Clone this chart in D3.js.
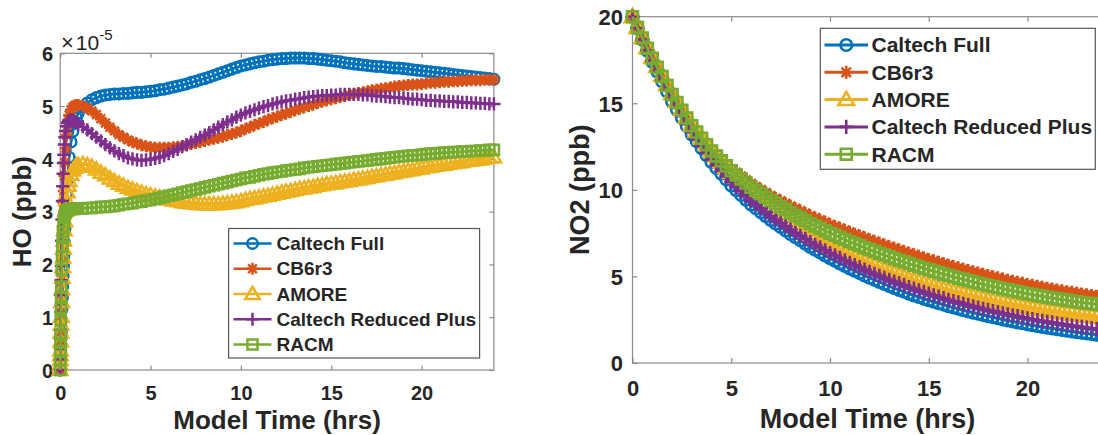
<!DOCTYPE html>
<html>
<head>
<meta charset="utf-8">
<script src="https://cdn.jsdelivr.net/npm/d3@7"></script>
<style>
  html, body { margin: 0; padding: 0; background: #fff; }
  svg { display: block; }
</style>
</head>
<body>
<svg id="fig" width="1098" height="435"></svg>
<script>
// ---------------- data ----------------
const mechanisms = ["Caltech Full", "CB6r3", "AMORE", "Caltech Reduced Plus", "RACM"];

// HO output times (hrs): finer steps during the initial spin-up
const hoTime = [0, 0.005, 0.01, 0.015, 0.02, 0.03, 0.04, 0.05, 0.06, 0.08, 0.1, 0.12, 0.14, 0.16, 0.18, 0.2, 0.23, 0.26, 0.3, 0.35, 0.4, 0.45, 0.5, 0.6, 0.7, 0.8, 0.9,
  1, 1.25, 1.5, 1.75, 2, 2.25, 2.5, 2.75, 3, 3.25, 3.5, 3.75, 4, 4.25, 4.5, 4.75, 5, 5.25, 5.5, 5.75,
  6, 6.25, 6.5, 6.75, 7, 7.25, 7.5, 7.75, 8, 8.25, 8.5, 8.75, 9, 9.25, 9.5, 9.75, 10, 10.25, 10.5, 10.75,
  11, 11.25, 11.5, 11.75, 12, 12.25, 12.5, 12.75, 13, 13.25, 13.5, 13.75, 14, 14.25, 14.5, 14.75,
  15, 15.25, 15.5, 15.75, 16, 16.25, 16.5, 16.75, 17, 17.25, 17.5, 17.75, 18, 18.25, 18.5, 18.75,
  19, 19.25, 19.5, 19.75, 20, 20.25, 20.5, 20.75, 21, 21.25, 21.5, 21.75, 22, 22.25, 22.5, 22.75,
  23, 23.25, 23.5, 23.75, 24];

// HO mixing ratio, in units of 1e-5 ppb
const hoCaltechFull = [0, 0.06, 0.12, 0.18, 0.24, 0.36, 0.48, 0.6, 0.71, 0.94, 1.16, 1.37, 1.58, 1.78, 1.97, 2.16, 2.42, 2.67, 2.98, 3.32, 3.6, 3.84, 4.03, 4.32, 4.52, 4.67, 4.78,
  4.87, 4.98, 5.06, 5.12, 5.16, 5.19, 5.21, 5.22, 5.23, 5.23, 5.24, 5.24, 5.25, 5.26, 5.26, 5.27,
  5.28, 5.29, 5.31, 5.32, 5.34, 5.36, 5.38, 5.4, 5.42, 5.45, 5.47, 5.5, 5.52, 5.55, 5.58, 5.61,
  5.64, 5.67, 5.7, 5.73, 5.76, 5.78, 5.8, 5.82, 5.84, 5.85, 5.87, 5.88, 5.89, 5.9, 5.9, 5.91,
  5.91, 5.91, 5.91, 5.9, 5.9, 5.89, 5.88, 5.87, 5.86, 5.85, 5.84, 5.82, 5.81, 5.8, 5.79, 5.78,
  5.77, 5.76, 5.75, 5.75, 5.74, 5.73, 5.72, 5.72, 5.71, 5.7, 5.69, 5.68, 5.67, 5.66, 5.65, 5.64,
  5.63, 5.62, 5.61, 5.6, 5.59, 5.58, 5.57, 5.56, 5.55, 5.54, 5.53, 5.52, 5.51];
const hoCB6r3 = [0, 0.12, 0.24, 0.36, 0.48, 0.7, 0.92, 1.12, 1.32, 1.7, 2.05, 2.37, 2.66, 2.93, 3.17, 3.39, 3.68, 3.93, 4.2, 4.45, 4.62, 4.74, 4.83, 4.93, 4.98, 5.01, 5.02,
  5.02, 5.0, 4.96, 4.91, 4.84, 4.76, 4.68, 4.6, 4.53, 4.46, 4.41, 4.36, 4.32, 4.29, 4.26, 4.24,
  4.22, 4.21, 4.21, 4.21, 4.21, 4.22, 4.23, 4.24, 4.26, 4.28, 4.3, 4.32, 4.34, 4.36, 4.38, 4.4,
  4.42, 4.45, 4.47, 4.5, 4.53, 4.57, 4.6, 4.64, 4.67, 4.7, 4.74, 4.77, 4.8, 4.83, 4.86, 4.89,
  4.92, 4.95, 4.98, 5.0, 5.03, 5.06, 5.08, 5.11, 5.13, 5.15, 5.17, 5.19, 5.21, 5.23, 5.25, 5.26,
  5.28, 5.3, 5.31, 5.33, 5.34, 5.35, 5.37, 5.38, 5.39, 5.4, 5.41, 5.41, 5.42, 5.43, 5.44, 5.44,
  5.45, 5.46, 5.46, 5.47, 5.47, 5.48, 5.48, 5.49, 5.49, 5.49, 5.5, 5.5, 5.5];
const hoAMORE = [0, 0.1, 0.19, 0.28, 0.37, 0.54, 0.71, 0.86, 1.01, 1.29, 1.53, 1.75, 1.95, 2.13, 2.3, 2.45, 2.65, 2.82, 3.02, 3.22, 3.37, 3.49, 3.58, 3.7, 3.78, 3.83, 3.86,
  3.88, 3.9, 3.88, 3.85, 3.8, 3.74, 3.69, 3.63, 3.58, 3.53, 3.49, 3.45, 3.42, 3.39, 3.36, 3.33,
  3.31, 3.29, 3.27, 3.25, 3.23, 3.21, 3.2, 3.18, 3.17, 3.16, 3.15, 3.14, 3.14, 3.14, 3.14, 3.14,
  3.15, 3.16, 3.17, 3.18, 3.2, 3.22, 3.24, 3.25, 3.27, 3.29, 3.3, 3.32, 3.34, 3.36, 3.38, 3.39,
  3.41, 3.43, 3.44, 3.46, 3.47, 3.49, 3.5, 3.52, 3.53, 3.54, 3.56, 3.57, 3.58, 3.6, 3.61, 3.63,
  3.64, 3.66, 3.67, 3.69, 3.7, 3.72, 3.73, 3.75, 3.76, 3.78, 3.79, 3.81, 3.82, 3.84, 3.85, 3.87,
  3.88, 3.89, 3.91, 3.92, 3.93, 3.94, 3.96, 3.97, 3.98, 3.99, 4.01, 4.02, 4.03];
const hoCaltechReducedPlus = [0, 0.2, 0.4, 0.58, 0.76, 1.1, 1.42, 1.7, 1.97, 2.45, 2.85, 3.2, 3.48, 3.72, 3.92, 4.08, 4.27, 4.41, 4.53, 4.62, 4.68, 4.71, 4.73, 4.74, 4.73, 4.71, 4.69,
  4.66, 4.61, 4.55, 4.48, 4.41, 4.34, 4.27, 4.21, 4.15, 4.1, 4.06, 4.02, 4.0, 3.98, 3.97, 3.98,
  3.99, 4.01, 4.03, 4.06, 4.1, 4.14, 4.18, 4.23, 4.27, 4.32, 4.36, 4.41, 4.45, 4.5, 4.55, 4.6,
  4.65, 4.7, 4.74, 4.79, 4.83, 4.87, 4.9, 4.93, 4.96, 4.99, 5.01, 5.04, 5.06, 5.08, 5.1, 5.11,
  5.13, 5.14, 5.16, 5.17, 5.18, 5.19, 5.2, 5.2, 5.21, 5.21, 5.22, 5.22, 5.22, 5.22, 5.22, 5.21,
  5.21, 5.2, 5.19, 5.19, 5.18, 5.17, 5.16, 5.16, 5.15, 5.14, 5.13, 5.13, 5.12, 5.11, 5.11, 5.1,
  5.1, 5.09, 5.09, 5.08, 5.08, 5.07, 5.07, 5.06, 5.06, 5.05, 5.05, 5.04, 5.04];
const hoRACM = [0, 0.18, 0.35, 0.51, 0.66, 0.94, 1.18, 1.39, 1.58, 1.9, 2.15, 2.35, 2.5, 2.62, 2.72, 2.8, 2.88, 2.94, 2.98, 3.01, 3.03, 3.04, 3.05, 3.05, 3.05, 3.05, 3.06,
  3.06, 3.06, 3.07, 3.07, 3.08, 3.09, 3.09, 3.1, 3.11, 3.12, 3.14, 3.15, 3.16, 3.18, 3.19, 3.21,
  3.22, 3.24, 3.26, 3.28, 3.3, 3.32, 3.34, 3.36, 3.38, 3.4, 3.42, 3.44, 3.46, 3.48, 3.5, 3.52,
  3.54, 3.56, 3.58, 3.6, 3.62, 3.64, 3.65, 3.67, 3.69, 3.71, 3.72, 3.74, 3.75, 3.76, 3.78, 3.79,
  3.8, 3.81, 3.83, 3.84, 3.85, 3.86, 3.87, 3.88, 3.89, 3.9, 3.91, 3.92, 3.93, 3.94, 3.95, 3.96,
  3.97, 3.98, 3.99, 4.0, 4.01, 4.02, 4.03, 4.04, 4.05, 4.06, 4.07, 4.07, 4.08, 4.09, 4.1, 4.1,
  4.11, 4.12, 4.12, 4.13, 4.13, 4.14, 4.14, 4.15, 4.15, 4.16, 4.16, 4.17, 4.17];

// NO2 output times (hrs)
const no2Time = [0, 0.25, 0.5, 0.75,
  1, 1.25, 1.5, 1.75, 2, 2.25, 2.5, 2.75, 3, 3.25, 3.5, 3.75, 4, 4.25, 4.5, 4.75, 5, 5.25, 5.5, 5.75,
  6, 6.25, 6.5, 6.75, 7, 7.25, 7.5, 7.75, 8, 8.25, 8.5, 8.75, 9, 9.25, 9.5, 9.75, 10, 10.25, 10.5, 10.75,
  11, 11.25, 11.5, 11.75, 12, 12.25, 12.5, 12.75, 13, 13.25, 13.5, 13.75, 14, 14.25, 14.5, 14.75,
  15, 15.25, 15.5, 15.75, 16, 16.25, 16.5, 16.75, 17, 17.25, 17.5, 17.75, 18, 18.25, 18.5, 18.75,
  19, 19.25, 19.5, 19.75, 20, 20.25, 20.5, 20.75, 21, 21.25, 21.5, 21.75, 22, 22.25, 22.5, 22.75,
  23, 23.25, 23.5, 23.75, 24];

// NO2 mixing ratio (ppb)
const no2CaltechFull = [20, 19.32, 18.67, 18.03, 17.4, 16.83, 16.25, 15.68, 15.1, 14.63, 14.15, 13.68,
  13.2, 12.8, 12.4, 12.0, 11.6, 11.26, 10.93, 10.59, 10.25, 9.98, 9.7, 9.43, 9.15, 8.93, 8.7, 8.48,
  8.25, 8.05, 7.85, 7.65, 7.45, 7.26, 7.08, 6.89, 6.7, 6.54, 6.38, 6.21, 6.05, 5.9, 5.75, 5.6,
  5.45, 5.32, 5.19, 5.05, 4.92, 4.8, 4.68, 4.56, 4.44, 4.33, 4.22, 4.11, 4.0, 3.9, 3.81, 3.71,
  3.62, 3.54, 3.45, 3.37, 3.28, 3.2, 3.13, 3.05, 2.97, 2.9, 2.84, 2.77, 2.7, 2.64, 2.58, 2.51,
  2.45, 2.4, 2.34, 2.29, 2.23, 2.18, 2.13, 2.08, 2.03, 1.99, 1.95, 1.9, 1.86, 1.82, 1.78, 1.74,
  1.7, 1.67, 1.63, 1.6, 1.56];
const no2CB6r3 = [20, 19.36, 18.74, 18.14, 17.55, 17.03, 16.5, 15.98, 15.45, 15.01, 14.58, 14.14,
  13.7, 13.35, 13.0, 12.65, 12.3, 12.03, 11.75, 11.48, 11.2, 10.99, 10.78, 10.56, 10.35, 10.18, 10.0, 9.83,
  9.65, 9.5, 9.35, 9.2, 9.05, 8.91, 8.78, 8.64, 8.5, 8.38, 8.25, 8.13, 8.0, 7.89, 7.78, 7.66,
  7.55, 7.44, 7.34, 7.23, 7.12, 7.02, 6.92, 6.82, 6.72, 6.63, 6.53, 6.44, 6.34, 6.25, 6.16, 6.07,
  5.98, 5.9, 5.82, 5.73, 5.65, 5.57, 5.5, 5.42, 5.34, 5.27, 5.2, 5.12, 5.05, 4.98, 4.92, 4.85,
  4.78, 4.72, 4.66, 4.6, 4.54, 4.49, 4.43, 4.38, 4.32, 4.27, 4.22, 4.17, 4.12, 4.08, 4.03, 3.99,
  3.94, 3.9, 3.86, 3.82, 3.78];
const no2AMORE = [20, 19.38, 18.79, 18.21, 17.65, 17.13, 16.6, 16.08, 15.55, 15.1, 14.65, 14.2,
  13.75, 13.38, 13.0, 12.63, 12.25, 11.94, 11.63, 11.31, 11.0, 10.74, 10.48, 10.21, 9.95, 9.73, 9.5, 9.28,
  9.05, 8.85, 8.65, 8.45, 8.25, 8.05, 7.85, 7.65, 7.45, 7.29, 7.13, 6.96, 6.8, 6.66, 6.52, 6.38,
  6.24, 6.11, 5.98, 5.85, 5.72, 5.61, 5.49, 5.38, 5.26, 5.16, 5.06, 4.95, 4.85, 4.76, 4.68, 4.59,
  4.5, 4.42, 4.34, 4.26, 4.18, 4.11, 4.04, 3.97, 3.9, 3.84, 3.77, 3.71, 3.64, 3.58, 3.53, 3.47,
  3.41, 3.36, 3.31, 3.25, 3.2, 3.16, 3.11, 3.07, 3.02, 2.98, 2.94, 2.9, 2.86, 2.83, 2.79, 2.76,
  2.72, 2.69, 2.66, 2.63, 2.6];
const no2CaltechReducedPlus = [20, 19.34, 18.69, 18.06, 17.45, 16.89, 16.33, 15.76, 15.2, 14.73, 14.26, 13.79,
  13.32, 12.93, 12.54, 12.14, 11.75, 11.43, 11.1, 10.78, 10.45, 10.18, 9.92, 9.65, 9.38, 9.16, 8.93, 8.71,
  8.48, 8.29, 8.09, 7.9, 7.7, 7.52, 7.34, 7.16, 6.98, 6.82, 6.67, 6.51, 6.35, 6.21, 6.07, 5.92,
  5.78, 5.65, 5.52, 5.39, 5.26, 5.15, 5.03, 4.92, 4.8, 4.7, 4.59, 4.49, 4.38, 4.29, 4.19, 4.1,
  4.0, 3.91, 3.83, 3.74, 3.65, 3.57, 3.5, 3.42, 3.34, 3.27, 3.2, 3.13, 3.06, 3.0, 2.94, 2.87,
  2.81, 2.75, 2.7, 2.64, 2.58, 2.53, 2.48, 2.43, 2.38, 2.34, 2.29, 2.25, 2.2, 2.16, 2.12, 2.08,
  2.04, 2.01, 1.97, 1.94, 1.9];
const no2RACM = [20, 19.37, 18.77, 18.18, 17.6, 17.08, 16.55, 16.03, 15.5, 15.05, 14.6, 14.15,
  13.7, 13.34, 12.98, 12.61, 12.25, 11.96, 11.68, 11.39, 11.1, 10.86, 10.63, 10.39, 10.15, 9.96, 9.77, 9.57,
  9.38, 9.21, 9.03, 8.86, 8.68, 8.52, 8.37, 8.21, 8.05, 7.91, 7.78, 7.64, 7.5, 7.38, 7.25, 7.13,
  7.0, 6.89, 6.78, 6.66, 6.55, 6.45, 6.34, 6.24, 6.13, 6.03, 5.94, 5.84, 5.74, 5.65, 5.56, 5.47,
  5.38, 5.3, 5.22, 5.13, 5.05, 4.98, 4.9, 4.83, 4.75, 4.68, 4.62, 4.55, 4.48, 4.42, 4.36, 4.29,
  4.23, 4.17, 4.12, 4.06, 4.0, 3.95, 3.9, 3.85, 3.8, 3.76, 3.71, 3.67, 3.62, 3.58, 3.54, 3.5,
  3.46, 3.43, 3.39, 3.36, 3.32];

// axis ticks
const timeTicks = [0, 5, 10, 15, 20];
const hoTicks = [0, 1, 2, 3, 4, 5, 6];
const no2Ticks = [0, 5, 10, 15, 20];

// ---------------- styling ----------------
const FONT = '"Liberation Sans", Arial, Helvetica, sans-serif';
const colors = ["#0072BD", "#D95319", "#EDB120", "#7E2F8E", "#77AC30"];
const markerTypes = ["circle", "asterisk", "triangle", "plus", "square"];
const axisColor = "#8a8a8a";
const textColor = "#262626";

// marker outline centred at the origin, s = nominal marker size in px
function markerPath(type, s) {
  const h = s / 2;
  switch (type) {
    case "circle": {
      const r = s * 0.44;
      return `M${r},0A${r},${r} 0 1,1 ${-r},0A${r},${r} 0 1,1 ${r},0Z`;
    }
    case "asterisk": {
      const d = h * 0.72;
      return `M${-h},0H${h}M0,${-h}V${h}M${-d},${-d}L${d},${d}M${-d},${d}L${d},${-d}`;
    }
    case "triangle": {
      const w = s * 0.6;
      return `M0,${-s * 0.6}L${w},${s * 0.42}L${-w},${s * 0.42}Z`;
    }
    case "plus":
      return `M${-s * 0.55},0H${s * 0.55}M0,${-s * 0.55}V${s * 0.55}`;
    case "square": {
      const a = s * 0.42;
      return `M${-a},${-a}H${a}V${a}H${-a}Z`;
    }
  }
}

const svg = d3.select("#fig");
svg.append("rect").attr("width", 1098).attr("height", 435).attr("fill", "#fff");

function drawPanel(cfg) {
  const g = svg.append("g");
  const x = d3.scaleLinear().domain([0, 24]).range([cfg.left, cfg.right]);
  const y = d3.scaleLinear().domain(cfg.yDomain).range([cfg.bottom, cfg.top]);
  const fmt = d3.format("d");

  // axes box
  g.append("rect")
    .attr("x", cfg.left).attr("y", cfg.top)
    .attr("width", cfg.right - cfg.left).attr("height", cfg.bottom - cfg.top)
    .attr("fill", "none").attr("stroke", axisColor).attr("stroke-width", 1.2);

  const tk = cfg.tickLen;
  const styleAxis = (sel) => {
    sel.select(".domain").remove();
    sel.selectAll(".tick line").attr("stroke", axisColor).attr("stroke-width", 1.2);
    sel.attr("font-family", FONT).attr("font-size", cfg.tickFont).attr("font-weight", "bold");
    sel.selectAll(".tick text").attr("fill", textColor);
  };

  // bottom axis with labels, ticks pointing inward
  g.append("g").attr("transform", `translate(0,${cfg.bottom})`)
    .call(d3.axisBottom(x).tickValues(timeTicks).tickFormat(fmt).tickSize(-tk).tickSizeOuter(0))
    .call(styleAxis)
    .call(s => s.selectAll(".tick text").attr("y", cfg.xLabelBase).attr("dy", null));
  // top axis (ticks only)
  g.append("g").attr("transform", `translate(0,${cfg.top})`)
    .call(d3.axisTop(x).tickValues(timeTicks).tickSize(-tk).tickSizeOuter(0).tickFormat(""))
    .call(styleAxis);
  // left axis with labels
  g.append("g").attr("transform", `translate(${cfg.left},0)`)
    .call(d3.axisLeft(y).tickValues(cfg.yTicks).tickFormat(fmt).tickSize(-tk).tickSizeOuter(0))
    .call(styleAxis)
    .call(s => s.selectAll(".tick text").attr("x", -cfg.yLabelPad).attr("dy", "0.36em"));
  // right axis (ticks only)
  g.append("g").attr("transform", `translate(${cfg.right},0)`)
    .call(d3.axisRight(y).tickValues(cfg.yTicks).tickSize(-tk).tickSizeOuter(0).tickFormat(""))
    .call(styleAxis);

  // series: line plus a marker on every output time
  const line = d3.line().x(d => x(d[0])).y(d => y(d[1]));
  cfg.series.forEach((vals, i) => {
    const n = Math.min(vals.length, cfg.time.length);
    if (vals.length !== cfg.time.length) console.warn("length mismatch", mechanisms[i], vals.length, cfg.time.length);
    const pts = d3.range(n).map(k => [cfg.time[k], vals[k]]);
    g.append("path").attr("d", line(pts))
      .attr("fill", "none").attr("stroke", colors[i])
      .attr("stroke-width", cfg.lineW).attr("stroke-linejoin", "round");
    g.append("g").selectAll("path").data(pts).join("path")
      .attr("d", markerPath(markerTypes[i], cfg.mk))
      .attr("transform", d => `translate(${x(d[0])},${y(d[1])})`)
      .attr("fill", "none").attr("stroke", colors[i]).attr("stroke-width", cfg.mkW);
  });

  // axis titles
  g.append("text")
    .attr("x", (cfg.left + cfg.right) / 2 + (cfg.xTitleShift || 0)).attr("y", cfg.xTitleY)
    .attr("text-anchor", "middle").attr("font-family", FONT)
    .attr("font-size", cfg.titleFont).attr("font-weight", "bold").attr("fill", textColor)
    .text("Model Time (hrs)");
  g.append("text")
    .attr("transform", `translate(${cfg.yTitleX},${(cfg.top + cfg.bottom) / 2}) rotate(-90)`)
    .attr("text-anchor", "middle").attr("font-family", FONT)
    .attr("font-size", cfg.titleFont).attr("font-weight", "bold").attr("fill", textColor)
    .text(cfg.yTitle);

  // legend
  const L = cfg.legend;
  const lg = g.append("g");
  lg.append("rect").attr("x", L.x).attr("y", L.y).attr("width", L.w).attr("height", L.h)
    .attr("fill", "#fff").attr("stroke", "#555").attr("stroke-width", 1.2);
  mechanisms.forEach((name, i) => {
    const cy = L.firstY + i * L.step;
    lg.append("line").attr("x1", L.lineX0).attr("x2", L.lineX1).attr("y1", cy).attr("y2", cy)
      .attr("stroke", colors[i]).attr("stroke-width", cfg.lineW);
    lg.append("path").attr("d", markerPath(markerTypes[i], cfg.mk))
      .attr("transform", `translate(${(L.lineX0 + L.lineX1) / 2},${cy})`)
      .attr("fill", "none").attr("stroke", colors[i]).attr("stroke-width", cfg.mkW);
    lg.append("text").attr("x", L.textX).attr("y", cy).attr("dy", "0.35em")
      .attr("font-family", FONT).attr("font-size", L.font).attr("font-weight", "bold")
      .attr("fill", textColor).text(name);
  });
  return { g, x, y };
}

// ---------------- HO panel ----------------
const ho = drawPanel({
  left: 60.2, right: 493.9, top: 53.3, bottom: 370,
  yDomain: [0, 6], yTicks: hoTicks, time: hoTime,
  series: [hoCaltechFull, hoCB6r3, hoAMORE, hoCaltechReducedPlus, hoRACM],
  tickLen: 4.5, tickFont: 20, xLabelBase: 30, yLabelPad: 7,
  lineW: 2.7, mk: 12, mkW: 2.5,
  titleFont: 26, xTitleY: 429, yTitleX: 31, yTitle: "HO (ppb)",
  legend: { x: 228.6, y: 228.5, w: 251, h: 129.5, firstY: 243.5, step: 25.25,
            lineX0: 233.5, lineX1: 271.5, textX: 276.5, font: 19 }
});
// exponent of the HO axis
const expo = ho.g.append("text").attr("x", 61).attr("y", 50)
  .attr("font-family", FONT).attr("fill", textColor);
expo.append("tspan").attr("font-size", 22).text("\u00D7");
expo.append("tspan").attr("font-size", 21).attr("dx", 2).text("10");
expo.append("tspan").attr("font-size", 15).attr("dy", -10).text("-5");

// ---------------- NO2 panel ----------------
drawPanel({
  left: 632.5, right: 1106.5, top: 16.7, bottom: 363,
  yDomain: [0, 20], yTicks: no2Ticks, time: no2Time,
  series: [no2CaltechFull, no2CB6r3, no2AMORE, no2CaltechReducedPlus, no2RACM],
  tickLen: 5, tickFont: 22, xLabelBase: 33, yLabelPad: 9.5,
  lineW: 3, mk: 13, mkW: 2.6,
  titleFont: 27, xTitleY: 428, xTitleShift: -2, yTitleX: 589, yTitle: "NO2 (ppb)",
  legend: { x: 820.3, y: 28.3, w: 275, h: 141, firstY: 45, step: 27.3,
            lineX0: 824.5, lineX1: 868, textX: 871.5, font: 21 }
});
</script>
</body>
</html>
